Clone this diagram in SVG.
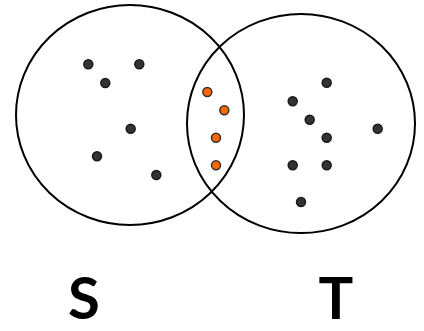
<svg xmlns="http://www.w3.org/2000/svg" width="424" height="331" viewBox="0 0 424 331">
<style>
.set{fill:none;stroke:#000;stroke-width:2}
.d{fill:#333;stroke:#1a1a1a;stroke-width:1.5}
.o{fill:#ff6600;stroke:#333;stroke-width:1.5}
.lbl{font-family:Lato,"Open Sans",sans-serif;font-weight:bold;font-size:58px;fill:#000;text-anchor:middle}
</style>
<rect width="424" height="331" fill="#fff"/>
<g id="S">
<ellipse class="set" cx="130" cy="115" rx="114" ry="110"/>
<text class="lbl" x="84" y="319">S</text>
</g>
<g id="T">
<ellipse class="set" cx="301" cy="123.5" rx="114" ry="109.5"/>
<text class="lbl" x="336" y="319">T</text>
</g>
<g id="points-S">
<circle class="d" cx="88.3" cy="64.3" r="4.5"/>
<circle class="d" cx="139.3" cy="64.3" r="4.5"/>
<circle class="d" cx="105.3" cy="83" r="4.5"/>
<circle class="d" cx="130.7" cy="128.7" r="4.5"/>
<circle class="d" cx="97" cy="156.3" r="4.5"/>
<circle class="d" cx="156.3" cy="175" r="4.5"/>
</g>
<g id="points-intersection">
<circle class="o" cx="207.3" cy="92" r="4.5"/>
<circle class="o" cx="224.3" cy="110.3" r="4.5"/>
<circle class="o" cx="216" cy="137.7" r="4.5"/>
<circle class="o" cx="216" cy="165.3" r="4.5"/>
</g>
<g id="points-T">
<circle class="d" cx="326.7" cy="82.7" r="4.5"/>
<circle class="d" cx="292.7" cy="101.3" r="4.5"/>
<circle class="d" cx="309.7" cy="119.7" r="4.5"/>
<circle class="d" cx="326.7" cy="137.7" r="4.5"/>
<circle class="d" cx="377.7" cy="128.7" r="4.5"/>
<circle class="d" cx="292.7" cy="165.3" r="4.5"/>
<circle class="d" cx="326.7" cy="165.3" r="4.5"/>
<circle class="d" cx="301" cy="202" r="4.5"/>
</g>
</svg>
